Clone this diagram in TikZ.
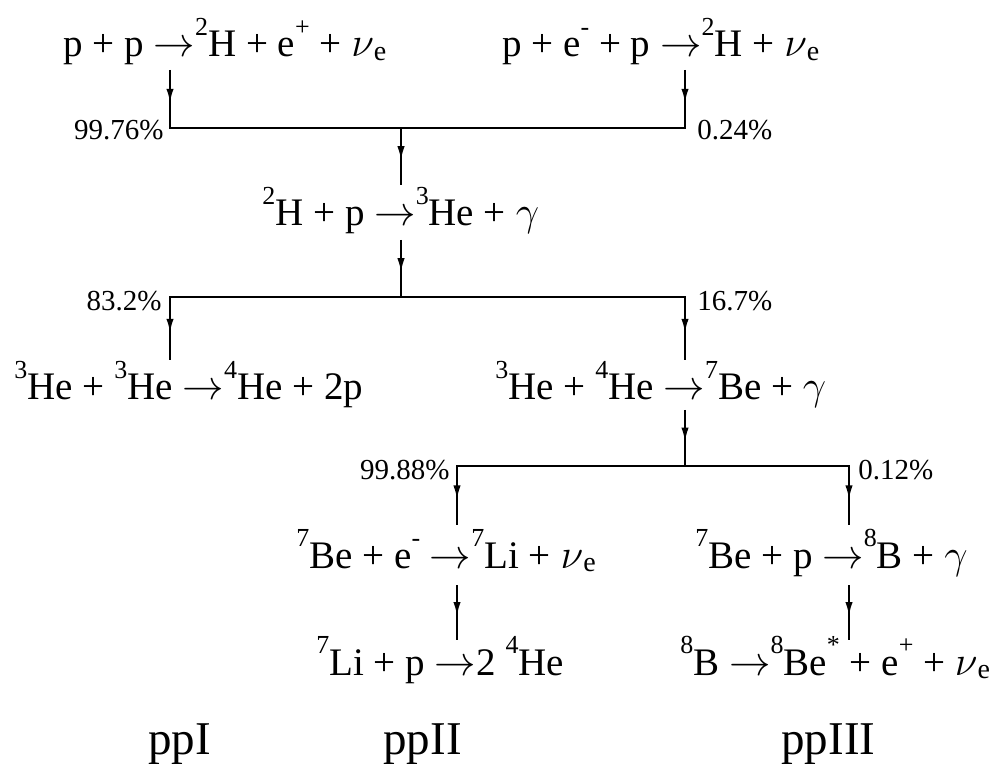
\documentclass[tikz,border=0pt]{standalone}
\usepackage{fontspec}
\setmainfont{Liberation Serif}
\usetikzlibrary{arrows.meta,decorations.markings}

\newcommand{\yields}{$\rightarrow$}
\newcommand{\up}[1]{\raisebox{0.54em}{\fontsize{13}{13}\selectfont #1}}
\newcommand{\dn}[1]{\raisebox{-0.1em}{\fontsize{14}{14}\selectfont #1}}
\newcommand{\iso}[2]{\up{#1}#2}
\newcommand{\nue}{$\nu$\dn{e}}

\begin{document}
\begin{tikzpicture}[x=0.5pt,y=-0.5pt,
  reac/.style={anchor=base west,inner sep=0pt,font=\fontsize{19.5}{23}\selectfont},
  frac/.style={inner sep=0pt,font=\fontsize{14.5}{17}\selectfont},
  chain/.style={anchor=base west,inner sep=0pt,font=\fontsize{23.5}{28}\selectfont},
  feed/.style={line width=1.4pt,postaction={decorate},
    decoration={markings,mark=at position 0.6 with {\arrow{Latex[length=8pt,width=3.6pt]}}}},
  bar/.style={line width=1.4pt,line cap=rect}]
\useasboundingbox (0,0) rectangle (995,774);

% reactions
\node[reac] (pp)   at (63,57)   {p + p \yields\iso{2}H + e\up{+} + \nue};
\node[reac] (pep)  at (502,57)  {p + e\up{-} + p \yields\iso{2}H + \nue};
\node[reac] (dp)   at (262,226) {\iso{2}H + p \yields\iso{3}He + $\gamma$};
\node[reac] (hehe) at (14,400)  {\iso{3}He + \iso{3}He \yields\iso{4}He + 2p};
\node[reac] (heal) at (495,400) {\iso{3}He + \iso{4}He \yields\iso{7}Be + $\gamma$};
\node[reac] (bee)  at (296,568) {\iso{7}Be + e\up{-} \yields\iso{7}Li + \nue};
\node[reac] (bep)  at (695,568) {\iso{7}Be + p \yields\iso{8}B + $\gamma$};
\node[reac] (lip)  at (316,675) {\iso{7}Li + p \yields2 \iso{4}He};
\node[reac] (bdec) at (680,675) {\iso{8}B \yields\iso{8}Be\up{*} + e\up{+} + \nue};

% branching ratios
\node[frac,anchor=base east] (r1) at (164,140) {99.76\%};
\node[frac,anchor=base west] (r2) at (697,140) {0.24\%};
\node[frac,anchor=base east] (r3) at (162,311) {83.2\%};
\node[frac,anchor=base west] (r4) at (697,311) {16.7\%};
\node[frac,anchor=base east] (r5) at (450,480) {99.88\%};
\node[frac,anchor=base west] (r6) at (858,480) {0.12\%};

% chain names
\node[chain] (c1) at (148,754) {ppI};
\node[chain] (c2) at (383,754) {ppII};
\node[chain] (c3) at (781,754) {ppIII};

% junction points
\coordinate (t1) at (170,70);  \coordinate (k1) at (170,128);
\coordinate (t2) at (685,70);  \coordinate (k2) at (685,128);
\coordinate (m1) at (401,128); \coordinate (b1) at (401,185);
\coordinate (t3) at (401,240); \coordinate (m2) at (401,297);
\coordinate (k3) at (170,297); \coordinate (b3) at (170,360);
\coordinate (k4) at (685,297); \coordinate (b4) at (685,360);
\coordinate (t5) at (685,410); \coordinate (m3) at (685,466);
\coordinate (k5) at (457,466); \coordinate (b5) at (457,525);
\coordinate (k6) at (849,466); \coordinate (b6) at (849,525);
\coordinate (t7) at (457,585); \coordinate (b7) at (457,640);
\coordinate (t8) at (849,585); \coordinate (b8) at (849,640);

% pp branch
\draw[feed] (t1) -- (k1);
\draw[feed] (t2) -- (k2);
\draw[bar] (k1) -- (k2);
\draw[feed] (m1) -- (b1);
% 3He branch
\draw[feed] (t3) -- (m2);
\draw[bar] (k3) -- (k4);
\draw[feed] (k3) -- (b3);
\draw[feed] (k4) -- (b4);
% 7Be branch
\draw[feed] (t5) -- (m3);
\draw[bar] (k5) -- (k6);
\draw[feed] (k5) -- (b5);
\draw[feed] (k6) -- (b6);
\draw[feed] (t7) -- (b7);
\draw[feed] (t8) -- (b8);
\end{tikzpicture}
\end{document}
